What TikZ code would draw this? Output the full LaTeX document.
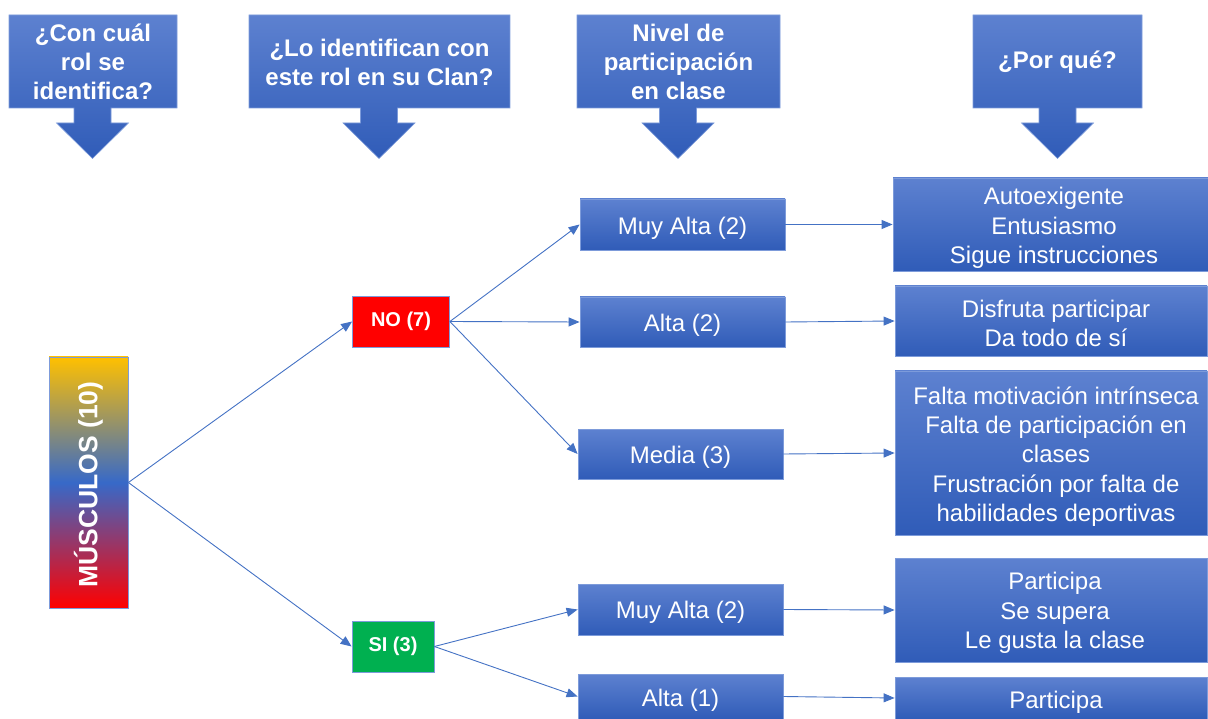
\documentclass[tikz,border=0pt]{standalone}
\usepackage{fontspec}
\setmainfont{Liberation Sans}
\usetikzlibrary{arrows.meta}
\definecolor{boxtop}{RGB}{93,129,208}
\definecolor{boxbot}{RGB}{48,92,184}
\definecolor{boxborder}{RGB}{125,155,218}
\definecolor{linecol}{RGB}{68,114,196}
\definecolor{musyellow}{RGB}{255,192,0}
\definecolor{musblue}{RGB}{55,105,200}
\definecolor{musred}{RGB}{255,0,0}
\definecolor{nored}{RGB}{255,0,0}
\definecolor{sigreen}{RGB}{0,176,80}
\tikzset{
  hdrfill/.style={top color=boxtop, bottom color=boxbot, draw=boxborder, line width=0.6pt},
  hdrtext/.style={text=white, align=center, inner sep=0pt, font=\fontsize{24}{29}\selectfont\bfseries},
  bluebox/.style={top color=boxtop, bottom color=boxbot, draw=boxborder, line width=0.8pt, inner sep=0pt},
  boxtext/.style={text=white, align=center, inner sep=0pt, font=\fontsize{24}{29.3}\selectfont},
  tagbox/.style={draw=boxborder, line width=0.8pt, text=white, inner sep=0pt,
    font=\fontsize{20}{24}\selectfont\bfseries},
  conn/.style={draw=linecol, line width=0.9pt, -{Triangle[length=11pt,width=9pt]}}
}
\newcommand\hdrshape[3]{%
  \shade[hdrfill] (#1,15) -- (#2,15) -- (#2,108) -- (#3+18.5,108) -- (#3+18.5,123)
    -- (#3+36,123) -- (#3,158.5) -- (#3-36,123) -- (#3-18.5,123) -- (#3-18.5,108)
    -- (#1,108) -- cycle;}
\begin{document}
\begin{tikzpicture}[x=1pt,y=-1pt]
\useasboundingbox (0,0) rectangle (1208,719);

% header callouts
\hdrshape{9}{177}{92.5}
\hdrshape{249}{510}{379}
\hdrshape{577}{780}{678}
\hdrshape{973}{1142}{1057.5}
\node[hdrtext] (h1) at (93,62) {¿Con cuál\\rol se\\identifica?};
\node[hdrtext] (h2) at (379.5,62) {¿Lo identifican con\\este rol en su Clan?};
\node[hdrtext] (h3) at (678.5,62) {Nivel de\\participación\\en clase};
\node[hdrtext] (h4) at (1057.5,62) {¿Por qué?};

% root
\node[draw=boxborder, line width=0.8pt, minimum width=79, minimum height=251, inner sep=0pt,
  top color=musyellow, bottom color=musred, middle color=musblue] (mus) at (88.5,482.5) {};
\node[rotate=90, text=white, inner sep=0pt, font=\fontsize{26.5}{30}\selectfont\bfseries]
  (mustext) at ([yshift=-2pt]mus.center) {MÚSCULOS (10)};

% yes/no
\node[tagbox, fill=nored, minimum width=97, minimum height=51] (no) at (401,321.5) {NO (7)};
\node[tagbox, fill=sigreen, minimum width=82, minimum height=51] (si) at (393,646.5) {SI (3)};

% participation level
\node[bluebox, minimum width=205, minimum height=51] (m1) at (682.5,224.5) {};
\node[bluebox, minimum width=205, minimum height=50] (m2) at (682.5,322) {};
\node[bluebox, minimum width=205, minimum height=50] (m3) at (680.5,454) {};
\node[bluebox, minimum width=205, minimum height=51] (m4) at (680.5,609.5) {};
\node[bluebox, minimum width=205, minimum height=45] (m5) at (680.5,696.5) {};
\node[boxtext] (tm1) at ([yshift=-3.5pt]m1.center) {Muy Alta (2)};
\node[boxtext] (tm2) at ([yshift=-3pt]m2.center) {Alta (2)};
\node[boxtext] (tm3) at ([yshift=-3pt]m3.center) {Media (3)};
\node[boxtext] (tm4) at ([yshift=-3pt]m4.center) {Muy Alta (2)};
\node[boxtext] (tm5) at ([yshift=-4pt]m5.center) {Alta (1)};

% reasons
\node[bluebox, minimum width=315, minimum height=93] (r1) at (1050.5,224.5) {};
\node[bluebox, minimum width=312, minimum height=70] (r2) at (1051,321) {};
\node[bluebox, minimum width=312, minimum height=164] (r3) at (1051,453) {};
\node[bluebox, minimum width=312, minimum height=104] (r4) at (1051,610) {};
\node[bluebox, minimum width=312, minimum height=42] (r5) at (1051,698) {};
\node[boxtext] (tr1) at (1054,228) {Autoexigente\\Entusiasmo\\Sigue instrucciones};
\node[boxtext] (tr2) at (1056,323.5) {Disfruta participar\\Da todo de sí};
\node[boxtext] (tr3) at (1056,456.5) {Falta motivación intrínseca\\Falta de participación en\\clases\\Frustración por falta de\\habilidades deportivas};
\node[boxtext] (tr4) at (1055,613) {Participa\\Se supera\\Le gusta la clase};
\node[boxtext] (tr5) at (1056,702) {Participa};

% connectors
\draw[conn] (mus.east) -- (no.west);
\draw[conn] (mus.east) -- (si.west);
\draw[conn] (no.east) -- (m1.west);
\draw[conn] (no.east) -- (m2.west);
\draw[conn] (no.east) -- (m3.west);
\draw[conn] (si.east) -- (m4.west);
\draw[conn] (si.east) -- (m5.west);
\draw[conn] (m1.east) -- (r1.west);
\draw[conn] (m2.east) -- (r2.west);
\draw[conn] (m3.east) -- (r3.west);
\draw[conn] (m4.east) -- (r4.west);
\draw[conn] (m5.east) -- (r5.west);
\end{tikzpicture}
\end{document}
